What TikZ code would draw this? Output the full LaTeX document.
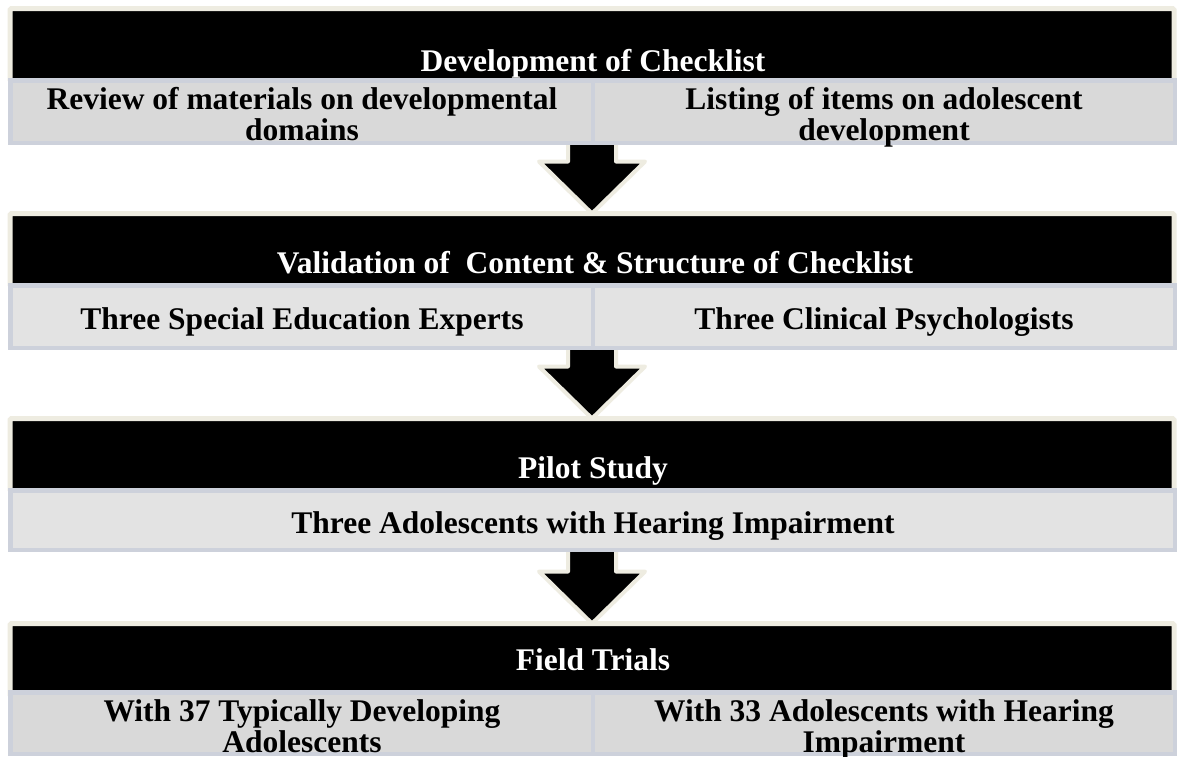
\documentclass[tikz,border=0pt]{standalone}
\usepackage{fontspec}
\setmainfont{Liberation Serif}
\usetikzlibrary{calc}

\definecolor{creamline}{HTML}{EEECE1}
\definecolor{cellline}{HTML}{CDD1DB}
\definecolor{cellfillA}{HTML}{D9D9D9}
\definecolor{cellfillB}{HTML}{E3E3E3}

% Block arrow from the bottom of one row (#1) to the top of the next title bar (#2)
\newcommand{\flowarrow}[2]{%
  \fill[black]
    ($(#2.north |- #1.south)+(-24,2.25)$) -- ($(#2.north)+(-24,-52)$) --
    ($(#2.north)+(-53,-52)$) -- (#2.north) -- ($(#2.north)+(53,-52)$) --
    ($(#2.north)+(24,-52)$) -- ($(#2.north |- #1.south)+(24,2.25)$) -- cycle;
  \draw[arrowrim]
    ($(#2.north |- #1.south)+(-24,2.25)$) -- ($(#2.north)+(-24,-52)$) --
    ($(#2.north)+(-53,-52)$) -- (#2.north) -- ($(#2.north)+(53,-52)$) --
    ($(#2.north)+(24,-52)$) -- ($(#2.north |- #1.south)+(24,2.25)$);
}

\begin{document}
\begin{tikzpicture}[x=1pt,y=-1pt,
  titlebar/.style={rectangle, fill=black, draw=creamline, line width=5pt,
    rounded corners=1.5pt, outer sep=0pt, inner sep=0pt, anchor=north west,
    minimum width=1164pt, minimum height=72.5pt},
  cellrow/.style={rectangle, draw=cellline, line width=4.5pt, outer sep=0pt,
    inner sep=0pt, anchor=north west, minimum width=1164.5pt},
  divider/.style={draw=cellline, line width=4pt},
  arrowrim/.style={draw=creamline, line width=4pt, line join=round},
  labelfont/.style={font=\bfseries\fontsize{31.5}{30.5}\selectfont},
  titletext/.style={labelfont, anchor=base, text=white, inner sep=0pt},
  celltext/.style={labelfont, anchor=base, text=black, align=center, inner sep=0pt},
]
\clip (0,0) rectangle (1179,756);
\fill[white] (0,0) rectangle (1179,756);

% Stage 1 (two-line cells are placed by the baseline of their last line)
\node[titlebar] (t1) at (10,8.5) {};
\node[cellrow, fill=cellfillA, minimum height=62.5pt] (r1) at (10.25,80.25) {};
\draw[divider] (r1.north) -- (r1.south);
\node[titletext] (t1txt) at (593,71) {Development of Checklist};
\node[celltext] (c1a) at (302,140) {Review of materials on developmental\\domains};
\node[celltext] (c1b) at (884,140) {Listing of items on adolescent\\development};

% Stage 2
\node[titlebar] (t2) at (10,213.5) {};
\node[cellrow, fill=cellfillB, minimum height=62.5pt] (r2) at (10.25,285.25) {};
\draw[divider] (r2.north) -- (r2.south);
\node[titletext] (t2txt) at (595,273) {Validation of~ Content \& Structure of Checklist};
\node[celltext] (c2a) at (302,329) {Three Special Education Experts};
\node[celltext] (c2b) at (884,329) {Three Clinical Psychologists};

% Stage 3
\node[titlebar] (t3) at (10,418.5) {};
\node[cellrow, fill=cellfillB, minimum height=59.5pt] (r3) at (10.25,490.25) {};
\node[titletext] (t3txt) at (593,478) {Pilot Study};
\node[celltext] (c3) at (593,533) {Three Adolescents with Hearing Impairment};

% Stage 4
\node[titlebar] (t4) at (10,623.5) {};
\node[cellrow, fill=cellfillA, minimum height=61.5pt] (r4) at (10.25,692.25) {};
\draw[divider] (r4.north) -- (r4.south);
\node[titletext] (t4txt) at (593,670) {Field Trials};
\node[celltext] (c4a) at (302,752) {With 37 Typically Developing\\Adolescents};
\node[celltext] (c4b) at (884,752) {With 33 Adolescents with Hearing\\Impairment};

% Arrows between stages
\flowarrow{r1}{t2}
\flowarrow{r2}{t3}
\flowarrow{r3}{t4}
\end{tikzpicture}
\end{document}
